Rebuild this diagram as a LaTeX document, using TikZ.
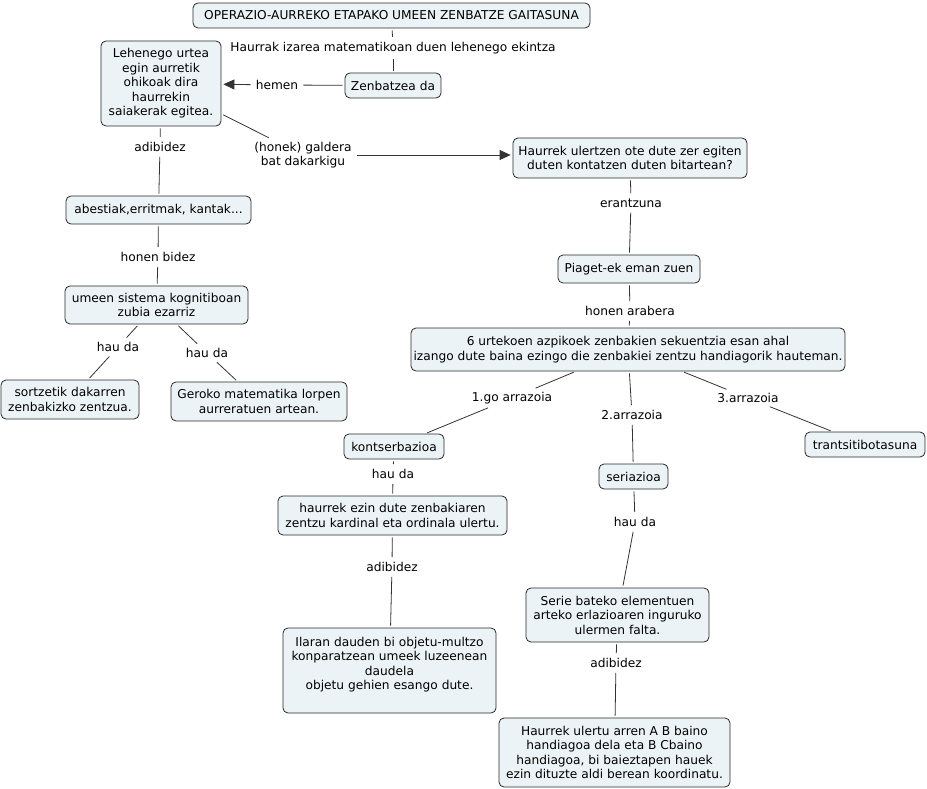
\documentclass[tikz,border=0pt]{standalone}
\usepackage{fontspec}
\setmainfont{DejaVu Sans}
\usetikzlibrary{arrows.meta}
\definecolor{boxfill}{RGB}{236,243,246}
\definecolor{boxline}{RGB}{40,40,40}
\begin{document}
\begin{tikzpicture}[x=1pt,y=-1pt,
  box/.style={draw=boxline,fill=boxfill,rounded corners=5pt,line width=0.8pt,inner sep=0pt,align=center,
    font=\fontsize{12.2}{14.5}\selectfont},
  lab/.style={inner sep=3pt,align=center,font=\fontsize{12.2}{14.5}\selectfont},
  con/.style={draw=black!80,line width=0.8pt,shorten <=2pt,shorten >=2pt},
  arr/.style={con,-{Triangle[length=11pt,width=10pt]}}]
\useasboundingbox (0,0) rectangle (927,789);
% concepts
\node[box,minimum width=397,minimum height=25] (title) at (391.5,15.5) {OPERAZIO-AURREKO ETAPAKO UMEEN ZENBATZE GAITASUNA};
\node[box,minimum width=96,minimum height=25] (zenb) at (393,85.5) {Zenbatzea da};
\node[box,minimum width=120,minimum height=85] (leh) at (161,83.5) {Lehenego urtea\\egin aurretik\\ohikoak dira\\haurrekin\\saiakerak egitea.};
\node[box,minimum width=234,minimum height=40] (q) at (630,158) {Haurrek ulertzen ote dute zer egiten\\duten kontatzen duten bitartean?};
\node[box,minimum width=185,minimum height=28] (abes) at (158.5,210) {abestiak,erritmak, kantak...};
\node[box,minimum width=183,minimum height=38] (umeen) at (156.5,305) {umeen sistema kognitiboan\\zubia ezarriz};
\node[box,minimum width=138,minimum height=39] (sortz) at (70,399.5) {sortzetik dakarren\\zenbakizko zentzua.};
\node[box,minimum width=176,minimum height=39] (geroko) at (259,401.5) {Geroko matematika lorpen\\aurreratuen artean.};
\node[box,minimum width=142,minimum height=28] (piaget) at (629,269) {Piaget-ek eman zuen};
\node[box,minimum width=434,minimum height=43] (six) at (628,349.5) {6 urtekoen azpikoek zenbakien sekuentzia esan ahal\\izango dute baina ezingo die zenbakiei zentzu handiagorik hauteman.};
\node[box,minimum width=100,minimum height=25] (kont) at (394,446.5) {kontserbazioa};
\node[box,minimum width=69,minimum height=25] (seri) at (633.5,476.5) {seriazioa};
\node[box,minimum width=120,minimum height=25] (trans) at (865,444.5) {trantsitibotasuna};
\node[box,minimum width=229,minimum height=39] (hez) at (392.5,515.5) {haurrek ezin dute zenbakiaren\\zentzu kardinal eta ordinala ulertu.};
\node[box,minimum width=183,minimum height=54] (serie) at (617.5,615) {Serie bateko elementuen\\arteko erlazioaren inguruko\\ulermen falta.};
\node[box,minimum width=213,minimum height=85] (ilaran) at (389.5,670.5) {Ilaran dauden bi objetu-multzo\\konparatzean umeek luzeenean\\daudela\\objetu gehien esango dute.\\ };
\node[box,minimum width=231,minimum height=69] (hu) at (614.5,752.5) {Haurrek ulertu arren A B baino\\handiagoa dela eta B Cbaino\\handiagoa, bi baieztapen hauek\\ezin dituzte aldi berean koordinatu.};
% labels
\node[lab] (l1) at (393,48) {Haurrak izarea matematikoan duen lehenego ekintza};
\node[lab] (l2) at (277,85) {hemen};
\node[lab] (l3) at (303,155) {(honek) galdera\\bat dakarkigu};
\node[lab] (l4) at (160,147) {adibidez};
\node[lab] (l5) at (158,257) {honen bidez};
\node[lab] (l6) at (118,347) {hau da};
\node[lab] (l7) at (207,353) {hau da};
\node[lab] (l8) at (631,203) {erantzuna};
\node[lab] (l9) at (630,311) {honen arabera};
\node[lab] (l10) at (512,398) {1.go arrazoia};
\node[lab] (l11) at (632,415) {2.arrazoia};
\node[lab] (l12) at (748,398) {3.arrazoia};
\node[lab] (l13) at (393,474) {hau da};
\node[lab] (l14) at (635,522) {hau da};
\node[lab] (l15) at (392,567) {adibidez};
\node[lab] (l16) at (616,663) {adibidez};
% connectors
\draw[con] (title) -- (l1); \draw[con] (l1) -- (zenb);
\draw[con] (zenb) -- (l2); \draw[arr] (l2) -- (leh);
\draw[con] (leh) -- (l3); \draw[arr] (l3.east) -- (l3.east -| q.west);
\draw[con] (leh) -- (l4); \draw[con] (l4) -- (abes);
\draw[con] (abes) -- (l5); \draw[con] (l5) -- (umeen);
\draw[con] (umeen) -- (l6); \draw[con] (l6) -- (sortz);
\draw[con] (umeen) -- (l7); \draw[con] (l7) -- (geroko);
\draw[con] (q) -- (l8); \draw[con] (l8) -- (piaget);
\draw[con] (piaget) -- (l9); \draw[con] (l9) -- (six);
\draw[con] (six) -- (l10); \draw[con] (l10) -- (kont);
\draw[con] (six) -- (l11); \draw[con] (l11) -- (seri);
\draw[con] (six) -- (l12); \draw[con] (l12) -- (trans);
\draw[con] (kont) -- (l13); \draw[con] (l13) -- (hez);
\draw[con] (seri) -- (l14); \draw[con] (l14) -- (serie);
\draw[con] (hez) -- (l15); \draw[con] (l15) -- (ilaran);
\draw[con] (serie) -- (l16); \draw[con] (l16) -- (hu);
\end{tikzpicture}
\end{document}
